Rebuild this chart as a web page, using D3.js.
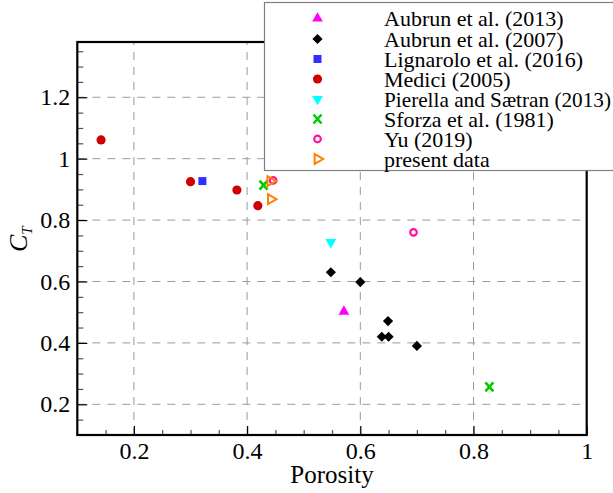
<!DOCTYPE html>
<html>
<head>
<meta charset="utf-8">
<script src="https://cdnjs.cloudflare.com/ajax/libs/d3/7.8.5/d3.min.js"></script>
<style>
  html, body { margin: 0; padding: 0; background: #fff; }
  svg { display: block; }
  svg text { font-family: "Liberation Serif", "Times New Roman", Times, serif; }
</style>
</head>
<body>
<svg id="chart" width="613" height="493"></svg>
<script>
// Thrust coefficient versus porosity, several data sources
const aubrun2013 = [[0.571, 0.502]];
const aubrun2007 = [[0.548, 0.630], [0.600, 0.598], [0.649, 0.471], [0.638, 0.420], [0.650, 0.420], [0.700, 0.390]];
const lignarolo2016 = [[0.321, 0.927]];
const medici2005 = [[0.142, 1.061], [0.300, 0.925], [0.382, 0.898], [0.419, 0.847]];
const pierella2013 = [[0.548, 0.728]];
const sforza1981 = [[0.429, 0.914], [0.828, 0.257]];
const yu2019 = [[0.694, 0.760], [0.446, 0.929]];
const presentData = [[0.441, 0.927], [0.442, 0.868]];

const legendLabels = ["Aubrun et al. (2013)", "Aubrun et al. (2007)", "Lignarolo et al. (2016)", "Medici (2005)",
  "Pierella and Sætran (2013)", "Sforza et al. (1981)", "Yu (2019)", "present data"];

const xMajor = [0.2, 0.4, 0.6, 0.8, 1];
const xTickLabels = ["0.2", "0.4", "0.6", "0.8", "1"];
const yMajor = [0.2, 0.4, 0.6, 0.8, 1, 1.2];
const yTickLabels = ["0.2", "0.4", "0.6", "0.8", "1", "1.2"];

const SERIF = '"Liberation Serif", "Times New Roman", Times, serif';
const W = 613;
const svg = d3.select("#chart");
const plotL = 77.3, plotR = 586.7, plotT = 42, plotB = 435;
const x = d3.scaleLinear().domain([0.1, 1]).range([plotL, plotR]);
const y = d3.scaleLinear().domain([0.1, 1.38]).range([plotB, plotT]);

// dashed grid at major ticks
const grid = svg.append("g").attr("stroke", "#9a9a9a").attr("stroke-width", 1).attr("stroke-dasharray", "8,7");
xMajor.filter(v => v < 1).forEach(v => {
  grid.append("line").attr("x1", x(v)).attr("x2", x(v)).attr("y1", plotB).attr("y2", plotT);
});
yMajor.forEach(v => {
  grid.append("line").attr("x1", plotL).attr("x2", plotR).attr("y1", y(v)).attr("y2", y(v));
});

// axes with inward ticks
const xMinor = d3.range(0.15, 1.0001, 0.05).filter(v => !xMajor.some(m => Math.abs(m - v) < 1e-6));
const yMinor = d3.range(0.15, 1.38, 0.05).filter(v => !yMajor.some(m => Math.abs(m - v) < 1e-6));

const xAxis = d3.axisBottom(x).tickValues(xMajor).tickFormat((d, i) => xTickLabels[i]).tickSizeInner(-9).tickSizeOuter(0).tickPadding(7);
const yAxis = d3.axisLeft(y).tickValues(yMajor).tickFormat((d, i) => yTickLabels[i]).tickSizeInner(-10).tickSizeOuter(0).tickPadding(7);
const xMinorAxis = d3.axisBottom(x).tickValues(xMinor).tickFormat("").tickSizeInner(-5).tickSizeOuter(0);
const yMinorAxis = d3.axisLeft(y).tickValues(yMinor).tickFormat("").tickSizeInner(-6).tickSizeOuter(0);

function styleAxis(g, color) {
  g.attr("font-family", SERIF).attr("font-size", 24);
  g.select(".domain").remove();
  g.selectAll(".tick line").attr("stroke", color).attr("stroke-width", 1.2);
  g.selectAll(".tick text").attr("fill", "#000");
}
svg.append("g").attr("transform", `translate(0,${plotB})`).call(xMinorAxis).call(g => styleAxis(g, "#555"));
svg.append("g").attr("transform", `translate(${plotL},0)`).call(yMinorAxis).call(g => styleAxis(g, "#555"));
svg.append("g").attr("transform", `translate(0,${plotB})`).call(xAxis).call(g => styleAxis(g, "#000"));
svg.append("g").attr("transform", `translate(${plotL},0)`).call(yAxis).call(g => styleAxis(g, "#000"));

// plot frame
svg.append("rect").attr("x", plotL).attr("y", plotT).attr("width", plotR - plotL).attr("height", plotB - plotT)
  .attr("fill", "none").attr("stroke", "#000").attr("stroke-width", 2.2);

// axis titles
svg.append("text").attr("x", (plotL + plotR) / 2).attr("y", 483).attr("text-anchor", "middle")
  .attr("font-size", 25).text("Porosity");
const yt = svg.append("text").attr("transform", "translate(27,252) rotate(-90)").attr("text-anchor", "start")
  .attr("font-size", 26).attr("font-style", "italic");
yt.append("tspan").text("C");
yt.append("tspan").attr("dy", 5).attr("font-size", 15).text("T");

// marker definitions
const xMark = "M-4,-4.5L4,4.5M4,-4.5L-4,4.5";
const series = [
  { data: aubrun2013, path: d3.symbol(d3.symbolTriangle, 50)(), rot: 0, fill: "#ff00ff", stroke: "none", sw: 0 },
  { data: aubrun2007, path: d3.symbol(d3.symbolSquare, 52)(), rot: 45, fill: "#000", stroke: "none", sw: 0 },
  { data: lignarolo2016, path: d3.symbol(d3.symbolSquare, 64)(), rot: 0, fill: "#2f2fff", stroke: "none", sw: 0 },
  { data: medici2005, path: d3.symbol(d3.symbolCircle, 66)(), rot: 0, fill: "#d00000", stroke: "none", sw: 0 },
  { data: pierella2013, path: d3.symbol(d3.symbolTriangle, 50)(), rot: 180, fill: "#00ffff", stroke: "none", sw: 0 },
  { data: sforza1981, path: xMark, rot: 0, fill: "none", stroke: "#00cc00", sw: 2.6 },
  { data: yu2019, path: d3.symbol(d3.symbolCircle, 34)(), rot: 0, fill: "none", stroke: "#ff10a0", sw: 2.2 },
  { data: presentData, path: d3.symbol(d3.symbolTriangle, 42)(), rot: 90, fill: "none", stroke: "#ff8000", sw: 2 }
];

function drawMarker(g, s, cx, cy) {
  g.append("path").attr("d", s.path)
    .attr("transform", `translate(${cx},${cy}) rotate(${s.rot})`)
    .attr("fill", s.fill).attr("stroke", s.stroke).attr("stroke-width", s.sw);
}

const marks = svg.append("g");
series.forEach(s => {
  s.data.forEach(d => drawMarker(marks, s, x(d[0]), y(d[1])));
});

// legend
const lg = svg.append("g");
lg.append("rect").attr("x", 264.5).attr("y", 2.5).attr("width", 360).attr("height", 168)
  .attr("fill", "#fff").attr("stroke", "#808080").attr("stroke-width", 1.2);
const rowY = [18.5, 39, 59, 79, 99, 119, 139, 159];
const textX = 384, textMax = W - 2 - textX;
series.forEach((s, i) => {
  drawMarker(lg, s, 317.5, rowY[i]);
  const t = lg.append("text").attr("x", textX).attr("y", rowY[i] + 7.5).attr("font-size", 22).text(legendLabels[i]);
  // squeeze any label that would run past the right edge of the page
  if (t.node().getComputedTextLength() > textMax) {
    t.attr("textLength", textMax).attr("lengthAdjust", "spacingAndGlyphs");
  }
});
</script>
</body>
</html>
